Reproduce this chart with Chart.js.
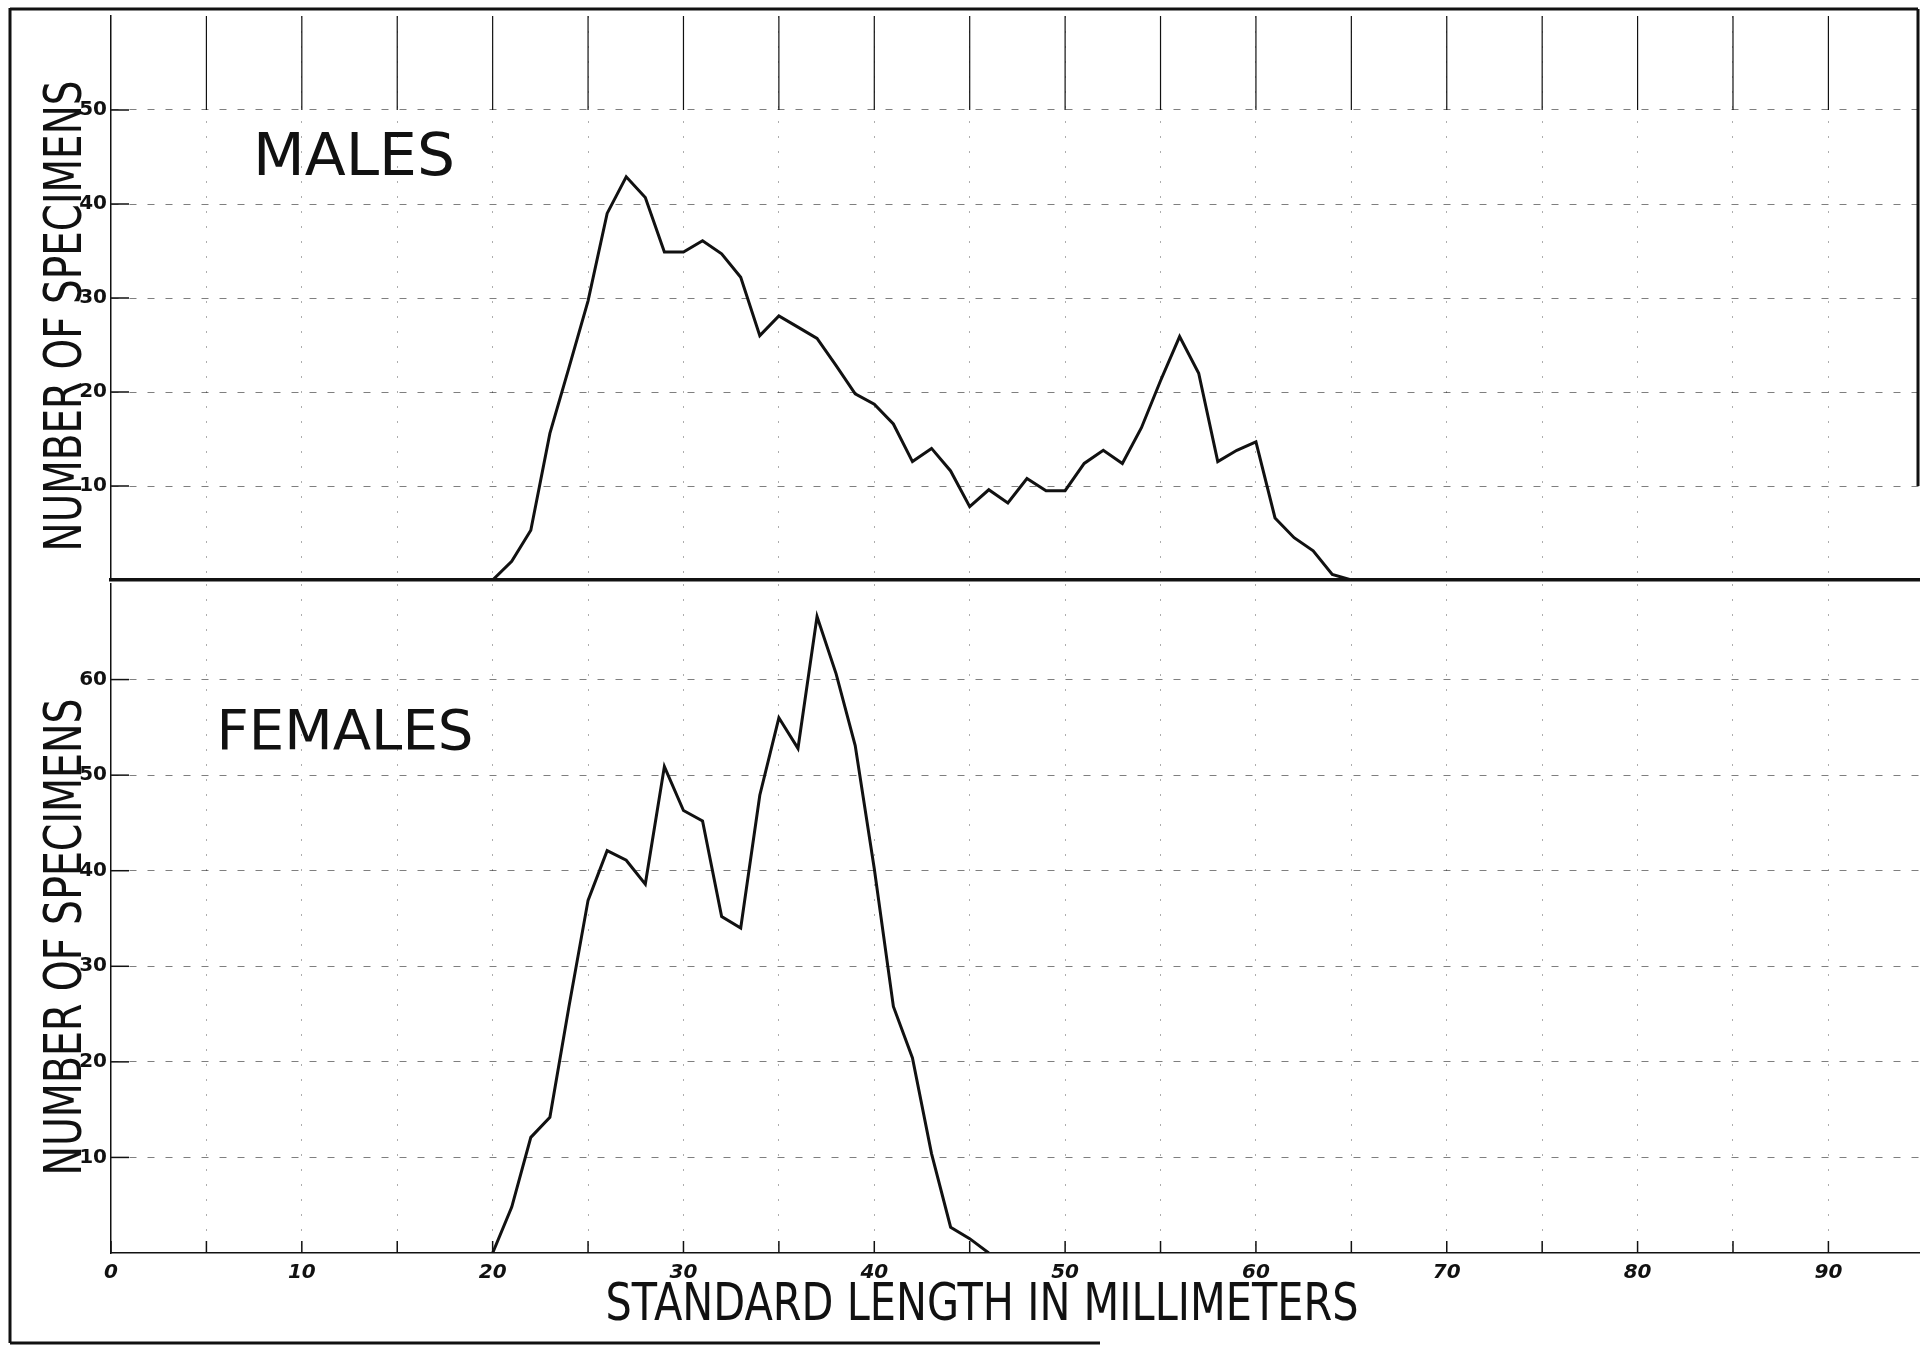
<!DOCTYPE html>
<html>
<head>
<meta charset="utf-8">
<title>Standard length of males and females</title>
<script src="https://cdn.jsdelivr.net/npm/chart.js@4.4.1/dist/chart.umd.min.js"></script>
<style>
  html, body { margin: 0; padding: 0; background: #fff; }
  #wrap { position: relative; width: 1920px; height: 1347px; }
  #wrap canvas { position: absolute; left: 0; top: 0; }
</style>
</head>
<body>
<div id="wrap">
  <canvas id="males" width="1920" height="1347"></canvas>
  <canvas id="females" width="1920" height="1347"></canvas>
</div>
<script>
// standard length (mm) -> number of specimens
const maleLengths = [20, 21, 22, 23, 24, 25, 26, 27, 28, 29, 30, 31, 32, 33, 34, 35, 36, 37, 38, 39, 40, 41, 42,
  43, 44, 45, 46, 47, 48, 49, 50, 51, 52, 53, 54, 55, 56, 57, 58, 59, 60, 61, 62, 63, 64, 65];
const maleCounts = [0, 2, 5.3, 15.6, 22.6, 29.7, 39, 42.9, 40.7, 34.9, 34.9, 36.1, 34.7, 32.2, 26, 28.1, 26.9, 25.7,
  22.8, 19.8, 18.7, 16.6, 12.6, 14, 11.6, 7.8, 9.6, 8.2, 10.8, 9.5, 9.5, 12.4, 13.8, 12.4, 16.2, 21.2, 25.9, 22,
  12.6, 13.8, 14.7, 6.6, 4.5, 3.1, 0.6, 0];

const femaleLengths = [20, 21, 22, 23, 24, 25, 26, 27, 28, 29, 30, 31, 32, 33, 34, 35, 36, 37, 38, 39, 40, 41, 42,
  43, 44, 45, 46];
const femaleCounts = [0, 4.8, 12.1, 14.2, 25.8, 36.9, 42.1, 41.1, 38.6, 50.9, 46.3, 45.2, 35.2, 34, 47.9, 56, 52.8,
  66.6, 60.6, 53.1, 40.2, 25.8, 20.4, 10.4, 2.7, 1.5, 0];

const xGrid = [0, 5, 10, 15, 20, 25, 30, 35, 40, 45, 50, 55, 60, 65, 70, 75, 80, 85, 90];
const maleTicks = [10, 20, 30, 40, 50];
const femaleTicks = [10, 20, 30, 40, 50, 60];

const INK = '#111';
const W = 1920, H = 1347;
const AXIS_W = 111;
const X_MAX = 94.8;

Chart.defaults.font.family = '"DejaVu Sans", sans-serif';
Chart.defaults.color = INK;

function pairs(xs, ys) {
  return xs.map((x, i) => ({ x, y: ys[i] }));
}

function fixedTicks(values) {
  return axis => { axis.ticks = values.map(v => ({ value: v })); };
}

function line(ctx, x1, y1, x2, y2) {
  ctx.beginPath();
  ctx.moveTo(x1, y1);
  ctx.lineTo(x2, y2);
  ctx.stroke();
}

// draw text squeezed/stretched to a measured width (hand lettering is narrow)
function fitText(ctx, str, x, y, size, width, angle) {
  ctx.save();
  ctx.translate(x, y);
  if (angle) ctx.rotate(angle);
  ctx.font = `${size}px "DejaVu Sans"`;
  ctx.fillStyle = INK;
  ctx.textAlign = 'center';
  ctx.textBaseline = 'alphabetic';
  const w = ctx.measureText(str).width;
  ctx.scale(width / w, 1);
  ctx.fillText(str, 0, 0);
  ctx.restore();
}

// vertical rulings are faint dotted, horizontal ones a heavier dash
function xGridColor(c) {
  return c.tick && c.tick.value === 0 ? 'transparent' : 'rgba(0,0,0,0.32)';
}

function series(points) {
  return {
    data: points,
    borderColor: INK,
    borderWidth: 3,
    pointRadius: 0,
    tension: 0,
    fill: false,
    borderJoinStyle: 'miter'
  };
}

function xAxis(extra) {
  return Object.assign({
    type: 'linear',
    min: 0,
    max: X_MAX,
    afterBuildTicks: fixedTicks(xGrid),
    grid: { color: xGridColor, lineWidth: 1, drawTicks: false }
  }, extra);
}

function yAxis(max, ticks) {
  return {
    type: 'linear',
    min: 0,
    max,
    afterBuildTicks: fixedTicks(ticks),
    afterFit: s => { s.width = AXIS_W; },
    ticks: { padding: 4, color: INK, font: { size: 20, weight: 'bold' } },
    grid: { color: 'rgba(0,0,0,0.5)', lineWidth: 1, drawTicks: false },
    border: { color: INK, width: 1.5, dash: [7, 11] }
  };
}

const malesDecor = {
  id: 'malesDecor',
  afterDraw(chart) {
    const { ctx, chartArea: a, scales: { x, y } } = chart;
    ctx.save();
    ctx.strokeStyle = INK;
    ctx.lineWidth = 1.2;
    const y50 = y.getPixelForValue(50);
    xGrid.forEach(v => {
      if (v === 0) return;
      const px = x.getPixelForValue(v);
      line(ctx, px, a.top, px, y50);
    });
    ctx.lineWidth = 1.5;
    maleTicks.forEach(v => {
      const py = y.getPixelForValue(v);
      line(ctx, a.left, py, a.left + 18, py);
    });
    // plate frame
    ctx.lineWidth = 3;
    line(ctx, 10, 8, 10, 1343);
    line(ctx, 10, 9, 1918, 9);
    line(ctx, 1918, 9, 1918, y.getPixelForValue(10));
    line(ctx, 10, 1343, 1100, 1343);
    ctx.restore();

    fitText(ctx, 'MALES', 354, 175, 59, 202);
    fitText(ctx, 'NUMBER OF SPECIMENS', 81, 316, 51, 471, -Math.PI / 2);
  }
};

const femalesDecor = {
  id: 'femalesDecor',
  afterDraw(chart) {
    const { ctx, chartArea: a, scales: { x, y } } = chart;
    ctx.save();
    ctx.strokeStyle = INK;
    ctx.lineWidth = 1.5;
    xGrid.forEach(v => {
      const px = x.getPixelForValue(v);
      line(ctx, px, a.bottom, px, a.bottom - 12);
    });
    femaleTicks.forEach(v => {
      const py = y.getPixelForValue(v);
      line(ctx, a.left, py, a.left + 18, py);
    });
    ctx.restore();

    fitText(ctx, 'FEMALES', 345, 749, 56, 257);
    fitText(ctx, 'NUMBER OF SPECIMENS', 81, 937, 51, 477, -Math.PI / 2);
    fitText(ctx, 'STANDARD LENGTH IN MILLIMETERS', 982, 1320, 51, 753);
  }
};

const common = {
  responsive: false,
  animation: false,
  devicePixelRatio: 1,
  plugins: { legend: { display: false }, tooltip: { enabled: false } }
};

new Chart(document.getElementById('males'), {
  type: 'line',
  data: { datasets: [series(pairs(maleLengths, maleCounts))] },
  options: {
    ...common,
    layout: { padding: { left: 0, right: 0, top: 11, bottom: H - 580 } },
    scales: {
      x: xAxis({
        afterFit: s => { s.height = 0; },
        ticks: { display: false },
        border: { color: INK, width: 3.5, dash: [2, 13] }
      }),
      y: yAxis(60, maleTicks)
    }
  },
  plugins: [malesDecor]
});

new Chart(document.getElementById('females'), {
  type: 'line',
  data: { datasets: [series(pairs(femaleLengths, femaleCounts))] },
  options: {
    ...common,
    layout: { padding: { left: 0, right: 0, top: 584, bottom: H - 1253 - 40 } },
    scales: {
      x: xAxis({
        afterFit: s => { s.height = 40; },
        ticks: {
          padding: 8,
          color: INK,
          maxRotation: 0,
          autoSkip: false,
          font: { size: 20, weight: 'bold', style: 'italic' },
          callback: v => (v % 10 === 0 ? String(v) : '')
        },
        border: { color: INK, width: 1.5, dash: [2, 13] }
      }),
      y: yAxis(70, femaleTicks)
    }
  },
  plugins: [femalesDecor]
});
</script>
</body>
</html>
